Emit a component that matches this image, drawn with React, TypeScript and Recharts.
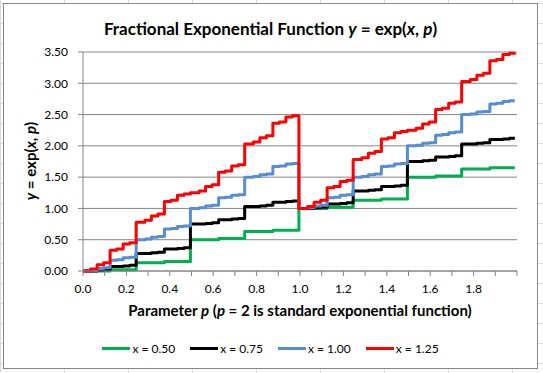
import React from 'react';
import { LineChart, Line, XAxis, YAxis, CartesianGrid } from 'recharts';

// parameter p where each level starts (jumps sit between two 0.01 samples)
const P = [
  0, 0.035, 0.065, 0.095, 0.125, 0.155, 0.185, 0.215,
  0.245, 0.285, 0.315, 0.345, 0.375, 0.405, 0.435, 0.465,
  0.495, 0.535, 0.565, 0.595, 0.625, 0.655, 0.685, 0.715,
  0.745, 0.785, 0.815, 0.845, 0.875, 0.905, 0.935, 0.965,
  0.995, 1.035, 1.065, 1.095, 1.125, 1.155, 1.185, 1.215,
  1.245, 1.285, 1.315, 1.345, 1.375, 1.405, 1.435, 1.465,
  1.495, 1.535, 1.565, 1.595, 1.625, 1.655, 1.685, 1.715,
  1.745, 1.785, 1.815, 1.845, 1.875, 1.905, 1.935, 1.965,
  1.99,
];

const X050 = [
  0.0, 0.0, 0.0, 0.0, 0.02, 0.02, 0.02, 0.02,
  0.13, 0.13, 0.13, 0.13, 0.15, 0.15, 0.15, 0.15,
  0.5, 0.5, 0.5, 0.5, 0.52, 0.52, 0.52, 0.52,
  0.63, 0.63, 0.63, 0.63, 0.65, 0.65, 0.65, 0.65,
  1.0, 1.0, 1.0, 1.0, 1.02, 1.02, 1.02, 1.02,
  1.13, 1.13, 1.13, 1.13, 1.15, 1.15, 1.15, 1.15,
  1.5, 1.5, 1.5, 1.5, 1.52, 1.52, 1.52, 1.52,
  1.63, 1.63, 1.63, 1.63, 1.65, 1.65, 1.65, 1.65,
  1.65,
];

const X075 = [
  0.0, 0.0, 0.01, 0.02, 0.07, 0.07, 0.08, 0.09,
  0.28, 0.28, 0.29, 0.3, 0.35, 0.35, 0.36, 0.37,
  0.75, 0.75, 0.76, 0.77, 0.82, 0.82, 0.83, 0.84,
  1.03, 1.03, 1.04, 1.05, 1.1, 1.1, 1.11, 1.12,
  1.0, 1.0, 1.01, 1.02, 1.07, 1.07, 1.08, 1.09,
  1.28, 1.28, 1.29, 1.3, 1.35, 1.35, 1.36, 1.37,
  1.75, 1.75, 1.76, 1.77, 1.82, 1.82, 1.83, 1.84,
  2.03, 2.03, 2.04, 2.05, 2.1, 2.1, 2.11, 2.12,
  2.12,
];

const X100 = [
  0.0, 0.01, 0.04, 0.05, 0.17, 0.18, 0.21, 0.22,
  0.5, 0.51, 0.54, 0.55, 0.67, 0.68, 0.71, 0.72,
  1.0, 1.01, 1.04, 1.05, 1.17, 1.18, 1.21, 1.22,
  1.5, 1.51, 1.54, 1.55, 1.67, 1.68, 1.71, 1.72,
  1.0, 1.01, 1.04, 1.05, 1.17, 1.18, 1.21, 1.22,
  1.5, 1.51, 1.54, 1.55, 1.67, 1.68, 1.71, 1.72,
  2.0, 2.01, 2.04, 2.05, 2.17, 2.18, 2.21, 2.22,
  2.5, 2.51, 2.54, 2.55, 2.67, 2.68, 2.71, 2.72,
  2.72,
];

const X125 = [
  0.0, 0.03, 0.1, 0.13, 0.33, 0.35, 0.43, 0.45,
  0.78, 0.81, 0.88, 0.91, 1.11, 1.13, 1.21, 1.23,
  1.25, 1.28, 1.35, 1.38, 1.58, 1.6, 1.68, 1.7,
  2.03, 2.06, 2.13, 2.16, 2.36, 2.38, 2.46, 2.48,
  1.0, 1.03, 1.1, 1.13, 1.33, 1.35, 1.43, 1.45,
  1.78, 1.81, 1.88, 1.91, 2.11, 2.13, 2.21, 2.23,
  2.25, 2.28, 2.35, 2.38, 2.58, 2.6, 2.68, 2.7,
  3.03, 3.06, 3.13, 3.16, 3.36, 3.38, 3.46, 3.48,
  3.49,
];

const X_TICKS = [0, 0.1, 0.2, 0.3, 0.4, 0.5, 0.6, 0.7, 0.8, 0.9, 1, 1.1, 1.2, 1.3, 1.4, 1.5, 1.6, 1.7, 1.8, 1.9, 2];
const Y_TICKS = [0, 0.5, 1, 1.5, 2, 2.5, 3, 3.5];

const SERIES = [
  { key: 'x050', name: 'x = 0.50', color: '#00B050', values: X050 },
  { key: 'x075', name: 'x = 0.75', color: '#000000', values: X075 },
  { key: 'x100', name: 'x = 1.00', color: '#558ED5', values: X100 },
  { key: 'x125', name: 'x = 1.25', color: '#FF0000', values: X125 },
];

const data = P.map((p, i) => {
  const row: any = { p };
  SERIES.forEach((s) => (row[s.key] = s.values[i]));
  return row;
});

const AXIS = '#868686';
const FONT = 'Lato, "Open Sans", sans-serif';

const xLabel = (v: number) => {
  const r = Math.round(v * 10);
  return r % 2 === 0 && r < 20 ? v.toFixed(1) : '';
};

export default function App() {
  return (
    <div
      style={{
        position: 'absolute',
        left: 0,
        top: 0,
        width: 543,
        height: 373,
        overflow: 'hidden',
        background: '#fff',
        // spreadsheet cells behind the chart
        backgroundImage:
          'linear-gradient(#dadada 1px, transparent 1px), linear-gradient(90deg, #dadada 1px, transparent 1px)',
        backgroundSize: '64px 20px',
        backgroundPosition: '0 3px, 0 0',
        fontFamily: FONT,
      }}
    >
      <div
        style={{
          position: 'absolute',
          left: 3,
          top: 3,
          width: 535,
          height: 366,
          boxSizing: 'border-box',
          border: `1px solid ${AXIS}`,
          background: '#fff',
        }}
      />
      <div
        style={{
          position: 'absolute',
          left: 3,
          width: 535,
          top: 19,
          textAlign: 'center',
          fontSize: 17,
          fontWeight: 700,
          lineHeight: '20px',
          color: '#000',
        }}
      >
        Fractional Exponential Function <i>y</i> = exp(<i>x</i>, <i>p</i>)
      </div>

      <div style={{ position: 'absolute', left: 0, top: 0 }}>
        <LineChart
          width={543}
          height={373}
          data={data}
          margin={{ top: 52, right: 26, bottom: 72, left: 23 }}
        >
          <CartesianGrid vertical={false} stroke={AXIS} strokeWidth={1} />
          <XAxis
            type="number"
            dataKey="p"
            domain={[0, 2]}
            ticks={X_TICKS}
            interval={0}
            tickFormatter={xLabel}
            height={30}
            tickSize={5}
            tickMargin={8}
            axisLine={{ stroke: AXIS }}
            tickLine={{ stroke: AXIS }}
            tick={{ fill: '#000', fontSize: 12, fontFamily: FONT }}
          />
          <YAxis
            type="number"
            domain={[0, 3.5]}
            ticks={Y_TICKS}
            interval={0}
            tickFormatter={(v: number) => v.toFixed(2)}
            width={60}
            tickSize={5}
            tickMargin={10}
            axisLine={{ stroke: AXIS }}
            tickLine={{ stroke: AXIS }}
            tick={{ fill: '#000', fontSize: 12, fontFamily: FONT }}
          />
          {SERIES.map((s) => (
            <Line
              key={s.key}
              dataKey={s.key}
              name={s.name}
              type="stepAfter"
              stroke={s.color}
              strokeWidth={3}
              strokeLinejoin="round"
              dot={false}
              activeDot={false}
              isAnimationActive={false}
            />
          ))}
        </LineChart>
      </div>

      <div
        style={{
          position: 'absolute',
          left: 30,
          top: 161,
          transform: 'translate(-50%, -50%) rotate(-90deg)',
          whiteSpace: 'nowrap',
          fontSize: 15,
          fontWeight: 700,
          color: '#000',
        }}
      >
        <i>y</i> = exp(<i>x</i>, <i>p</i>)
      </div>

      {/* axis title is centred under the plot area */}
      <div
        style={{
          position: 'absolute',
          left: 83,
          width: 434,
          top: 301,
          textAlign: 'center',
          fontSize: 15,
          fontWeight: 700,
          lineHeight: '18px',
          color: '#000',
          whiteSpace: 'nowrap',
        }}
      >
        Parameter <i>p</i> (<i>p</i> = 2 is standard exponential function)
      </div>

      <div
        style={{
          position: 'absolute',
          left: 3,
          width: 535,
          top: 341,
          display: 'flex',
          justifyContent: 'center',
          alignItems: 'center',
          gap: 15,
          fontSize: 12,
          color: '#000',
        }}
      >
        {SERIES.map((s) => (
          <div key={s.key} style={{ display: 'flex', alignItems: 'center' }}>
            <span style={{ display: 'inline-block', width: 28, height: 3, background: s.color, marginRight: 2 }} />
            <span>{s.name}</span>
          </div>
        ))}
      </div>
    </div>
  );
}
